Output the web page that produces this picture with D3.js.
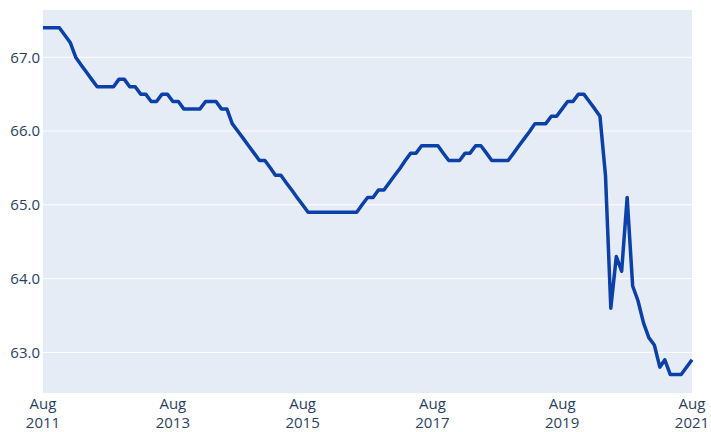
<!DOCTYPE html>
<html>
<head>
<meta charset="utf-8">
<script src="https://cdn.jsdelivr.net/npm/d3@7"></script>
<style>
  html, body { margin: 0; padding: 0; background: #fff; }
  svg { display: block; }
  text { font-family: "Open Sans", sans-serif; fill: #2a3f5f; }
</style>
</head>
<body>
<svg id="chart" width="711" height="432"></svg>
<script>
// Monthly series, Aug 2011 .. Aug 2021
const startMonth = "2011-08";
const values = [
  67.4, 67.4, 67.4, 67.4, 67.3, 67.2, 67.0, 66.9, 66.8, 66.7, 66.6, 66.6,
  66.6, 66.6, 66.7, 66.7, 66.6, 66.6, 66.5, 66.5, 66.4, 66.4, 66.5, 66.5,
  66.4, 66.4, 66.3, 66.3, 66.3, 66.3, 66.4, 66.4, 66.4, 66.3, 66.3, 66.1,
  66.0, 65.9, 65.8, 65.7, 65.6, 65.6, 65.5, 65.4, 65.4, 65.3, 65.2, 65.1,
  65.0, 64.9, 64.9, 64.9, 64.9, 64.9, 64.9, 64.9, 64.9, 64.9, 64.9, 65.0,
  65.1, 65.1, 65.2, 65.2, 65.3, 65.4, 65.5, 65.6, 65.7, 65.7, 65.8, 65.8,
  65.8, 65.8, 65.7, 65.6, 65.6, 65.6, 65.7, 65.7, 65.8, 65.8, 65.7, 65.6,
  65.6, 65.6, 65.6, 65.7, 65.8, 65.9, 66.0, 66.1, 66.1, 66.1, 66.2, 66.2,
  66.3, 66.4, 66.4, 66.5, 66.5, 66.4, 66.3, 66.2, 65.4, 63.6, 64.3, 64.1,
  65.1, 63.9, 63.7, 63.4, 63.2, 63.1, 62.8, 62.9, 62.7, 62.7, 62.7, 62.8,
  62.9
];
const yTicks = [63, 64, 65, 66, 67];
const xTickYears = [2011, 2013, 2015, 2017, 2019, 2021];
const xTickMonthLabel = "Aug";
const yDomain = [62.45, 67.64];

const W = 711, H = 432;
const margin = { left: 43, right: 19, top: 10, bottom: 39 };

const parse = d3.timeParse("%Y-%m");
const t0 = parse(startMonth);
const data = values.map((v, i) => ({ date: d3.timeMonth.offset(t0, i), value: v }));

const svg = d3.select("#chart");
const x = d3.scaleTime()
  .domain([data[0].date, data[data.length - 1].date])
  .range([margin.left, W - margin.right]);
const y = d3.scaleLinear()
  .domain(yDomain)
  .range([H - margin.bottom, margin.top]);

// plot background
svg.append("rect")
  .attr("x", margin.left).attr("y", margin.top)
  .attr("width", W - margin.left - margin.right)
  .attr("height", H - margin.top - margin.bottom)
  .attr("fill", "#E5ECF6");

// y axis with gridlines
const yAxis = d3.axisLeft(y).tickValues(yTicks).tickFormat(d3.format(".1f"))
  .tickSize(0).tickPadding(3);
const gy = svg.append("g").attr("transform", `translate(${margin.left},0)`).call(yAxis);
gy.select(".domain").remove();
gy.selectAll("text").style("font-size", "15px").attr("fill", "#2a3f5f");
svg.append("g").selectAll("line").data(yTicks).join("line")
  .attr("x1", margin.left).attr("x2", W - margin.right)
  .attr("y1", d => y(d)).attr("y2", d => y(d))
  .attr("stroke", "#fff").attr("stroke-width", 1);

// x axis
const xTickDates = xTickYears.map(yr => parse(yr + "-08"));
const xAxis = d3.axisBottom(x).tickValues(xTickDates).tickSize(0).tickFormat("");
const gx = svg.append("g").attr("transform", `translate(0,${H - margin.bottom})`).call(xAxis);
gx.select(".domain").remove();
const lbl = svg.append("g").selectAll("text").data(xTickDates).join("text")
  .attr("x", d => x(d)).attr("y", 408.5)
  .attr("text-anchor", "middle")
  .style("font-size", "15px");
lbl.append("tspan").attr("x", d => x(d)).text(xTickMonthLabel);
lbl.append("tspan").attr("x", d => x(d)).attr("dy", 19.5).text(d => d.getFullYear());

// line
const line = d3.line().x(d => x(d.date)).y(d => y(d.value));
svg.append("path").datum(data)
  .attr("d", line)
  .attr("fill", "none")
  .attr("stroke", "#0a40a8")
  .attr("stroke-width", 3.5)
  .attr("stroke-linejoin", "round");
</script>
</body>
</html>
